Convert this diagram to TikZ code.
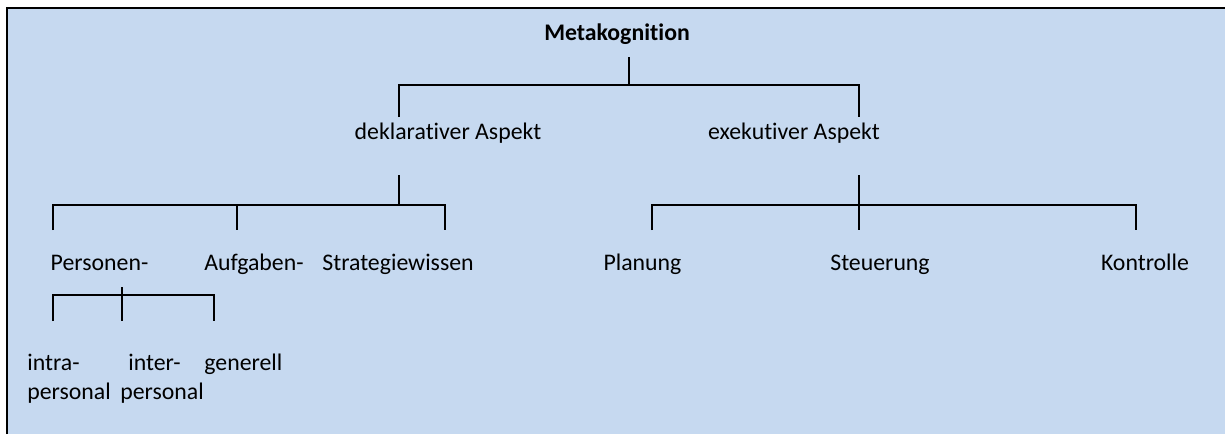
\documentclass[tikz,border=0pt]{standalone}
\usepackage{fontspec}
\setmainfont{Carlito}[Ligatures=NoCommon]
\definecolor{panelblue}{RGB}{198,217,240}
\begin{document}
\begin{tikzpicture}[x=0.5pt,y=-0.5pt,
  lbl/.style={anchor=base,inner sep=0pt,font=\fontsize{11.9}{14.5}\selectfont},
  lblw/.style={lbl,anchor=base west},
  bar/.style={line width=1pt},
]
\useasboundingbox (0,0) rectangle (1225,434);
% panel
\fill[panelblue] (7,8) rectangle (1225,434);
\draw[line width=1pt] (7,434) -- (7,8) -- (1225,8);

% labels
\node[lbl,font=\fontsize{11.9}{14.5}\selectfont\bfseries] (meta) at (617,40) {Metakognition};
\node[lbl] (dekl) at (448,139) {deklarativer Aspekt};
\node[lbl] (exek) at (794,139) {exekutiver Aspekt};
\node[lbl] (pers) at (99.5,270) {Personen-};
\node[lbl] (aufg) at (254,270) {Aufgaben-};
\node[lbl] (strat) at (398,270) {Strategiewissen};
\node[lbl] (plan) at (642.5,270) {Planung};
\node[lbl] (steu) at (880,270) {Steuerung};
\node[lbl] (kont) at (1145,270) {Kontrolle};
\node[lblw] (intra) at (27,370) {\begin{tabular}[t]{@{}l@{}}intra-\\personal\end{tabular}};
\node[lblw] (inter) at (120,370) {\begin{tabular}[t]{@{}l@{}}\hspace{4pt}inter-\\personal\end{tabular}};
\node[lblw] (gen) at (204,370) {generell};

% connector points
\coordinate (metaD) at (629,57);
\coordinate (metaJ) at (629,85);
\coordinate (deklU) at (399,117);
\coordinate (deklJ) at (399,85);
\coordinate (exekU) at (859,117);
\coordinate (exekJ) at (859,85);
\coordinate (deklD) at (399,175);
\coordinate (deklB) at (399,205);
\coordinate (persU) at (53,230);
\coordinate (persJ) at (53,205);
\coordinate (aufgU) at (237,230);
\coordinate (aufgJ) at (237,205);
\coordinate (stratU) at (445,230);
\coordinate (stratJ) at (445,205);
\coordinate (exekD) at (859,175);
\coordinate (steuU) at (859,230);
\coordinate (planU) at (652,230);
\coordinate (planJ) at (652,205);
\coordinate (kontU) at (1136,230);
\coordinate (kontJ) at (1136,205);
\coordinate (persD) at (122,287);
\coordinate (interU) at (122,321);
\coordinate (intraU) at (53,321);
\coordinate (intraJ) at (53,295);
\coordinate (genU) at (214,321);
\coordinate (genJ) at (214,295);

% tree brackets
\draw[bar] (metaD) -- (metaJ);
\draw[bar] (deklU) -- (deklJ) -- (exekJ) -- (exekU);
\draw[bar] (deklD) -- (deklB);
\draw[bar] (persU) -- (persJ) -- (stratJ) -- (stratU);
\draw[bar] (aufgJ) -- (aufgU);
\draw[bar] (exekD) -- (steuU);
\draw[bar] (planU) -- (planJ) -- (kontJ) -- (kontU);
\draw[bar] (persD) -- (interU);
\draw[bar] (intraU) -- (intraJ) -- (genJ) -- (genU);
\end{tikzpicture}
\end{document}
